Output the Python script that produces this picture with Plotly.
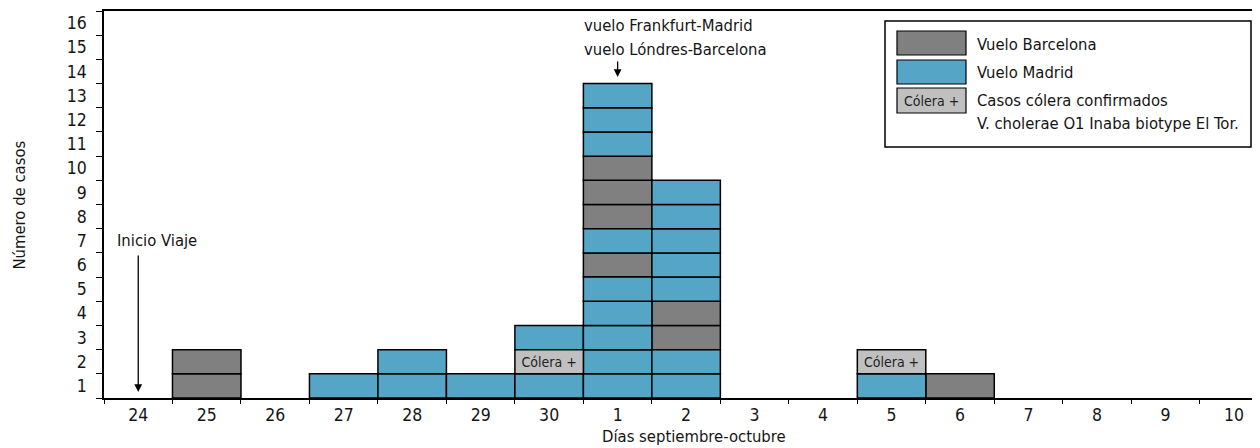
import plotly.graph_objects as go

# ---- data ----
days = ['24', '25', '26', '27', '28', '29', '30', '1', '2', '3', '4', '5', '6', '7', '8', '9', '10']
# cells per day, bottom-up: B = Vuelo Barcelona, M = Vuelo Madrid, C = Cólera + (confirmado)
stack_25 = ['B', 'B']
stack_27 = ['M']
stack_28 = ['M', 'M']
stack_29 = ['M']
stack_30 = ['M', 'C', 'M']
stack_1 = ['M', 'M', 'M', 'M', 'M', 'B', 'M', 'B', 'B', 'B', 'M', 'M', 'M']
stack_2 = ['M', 'M', 'B', 'B', 'M', 'M', 'M', 'M', 'M']
stack_5 = ['M', 'C']
stack_6 = ['B']
stacks = {'25': stack_25, '27': stack_27, '28': stack_28, '29': stack_29, '30': stack_30,
          '1': stack_1, '2': stack_2, '5': stack_5, '6': stack_6}
y_labels = [str(i) for i in range(1, 17)]

# ---- styles ----
FONT = "DejaVu Sans Condensed, Liberation Sans Narrow, Arial Narrow, sans-serif"
FS = 16.5
FT = 17.5
TXT = '#151515'
C_B = '#808080'
C_M = '#55a5c6'
C_C = '#c0c0c0'
names = {'B': 'Vuelo Barcelona', 'M': 'Vuelo Madrid', 'C': 'Casos cólera confirmados'}
colors = {'B': C_B, 'M': C_M, 'C': C_C}

fig = go.Figure()
for code in ['B', 'M', 'C']:
    xs, bases = [], []
    for d, cells in stacks.items():
        xi = days.index(d)
        for lvl, c in enumerate(cells):
            if c == code:
                xs.append(xi)
                bases.append(lvl)
    fig.add_trace(go.Bar(
        x=xs, y=[1] * len(xs), base=bases, width=1,
        name=names[code],
        marker=dict(color=colors[code], line=dict(color='black', width=1.5)),
        text=['Cólera +'] * len(xs) if code == 'C' else None,
        textposition='inside' if code == 'C' else 'none',
        insidetextanchor='middle',
        textfont=dict(family=FONT, size=14, color='#222222'),
        showlegend=False,
    ))

# page body has an 8px margin: figure is offset by OFF in the screenshot
OFF = 8
W, H = 1252, 440
L, R, T, B = 96, 0, 3, 50
pw, ph = W - L - R, H - T - B


def px(sx):
    return (sx - OFF - L) / pw


def py(sy):
    return (H - B - (sy - OFF)) / ph


shapes = []
annotations = []
# legend box
shapes.append(dict(type='rect', xref='paper', yref='paper', x0=px(885), x1=px(1251), y0=py(147), y1=py(21),
                   line=dict(color='black', width=1.5), fillcolor='white', layer='above'))
sw = [(C_B, 31, 55), (C_M, 60, 84), (C_C, 88, 113)]
for col, y0, y1 in sw:
    shapes.append(dict(type='rect', xref='paper', yref='paper', x0=px(897), x1=px(966), y0=py(y1), y1=py(y0),
                       line=dict(color='black', width=1.2), fillcolor=col, layer='above'))
annotations.append(dict(xref='paper', yref='paper', x=px(931.5), y=py(100.5), text='Cólera +', showarrow=False,
                        font=dict(family=FONT, size=14, color='#222222'), xanchor='center', yanchor='middle'))
leg_texts = [('Vuelo Barcelona', 44), ('Vuelo Madrid', 72.5), ('Casos cólera confirmados', 100.5),
             ('V. cholerae O1 Inaba biotype El Tor.', 123.5)]
for t, yy in leg_texts:
    annotations.append(dict(xref='paper', yref='paper', x=px(975), y=py(yy), text=t, showarrow=False,
                            font=dict(family=FONT, size=FS, color=TXT), xanchor='left', yanchor='middle'))

# Inicio Viaje
annotations.append(dict(x=0.27, y=6.5, xref='x', yref='y', text='Inicio Viaje', showarrow=False,
                        font=dict(family=FONT, size=FS, color=TXT), xanchor='center', yanchor='middle'))
annotations.append(dict(x=0, y=0.25, ax=0, ay=5.95, xref='x', yref='y', axref='x', ayref='y', text='',
                        showarrow=True, arrowhead=2, arrowsize=1.2, arrowwidth=1.3, arrowcolor='black'))
# flights
annotations.append(dict(x=6.485, y=15.4, xref='x', yref='y', text='vuelo Frankfurt-Madrid', showarrow=False,
                        font=dict(family=FONT, size=FS, color=TXT), xanchor='left', yanchor='middle'))
annotations.append(dict(x=6.485, y=14.4, xref='x', yref='y', text='vuelo Lóndres-Barcelona', showarrow=False,
                        font=dict(family=FONT, size=FS, color=TXT), xanchor='left', yanchor='middle'))
annotations.append(dict(x=7, y=13.27, ax=7, ay=13.97, xref='x', yref='y', axref='x', ayref='y', text='',
                        showarrow=True, arrowhead=2, arrowsize=1.2, arrowwidth=1.3, arrowcolor='black'))
# axis titles
annotations.append(dict(xref='paper', yref='paper', x=px(19.5), y=py(205), text='Número de casos', textangle=-90,
                        showarrow=False, font=dict(family=FONT, size=FS, color=TXT),
                        xanchor='center', yanchor='middle'))
annotations.append(dict(xref='paper', yref='paper', x=px(694), y=py(436), text='Días septiembre-octubre',
                        showarrow=False, font=dict(family=FONT, size=FS, color=TXT),
                        xanchor='center', yanchor='middle'))

fig.update_layout(
    width=W, height=H,
    margin=dict(l=L, r=R, t=T, b=B, pad=0),
    paper_bgcolor='white', plot_bgcolor='white',
    barmode='overlay',
    font=dict(family=FONT, size=FS, color=TXT),
    shapes=shapes, annotations=annotations,
    xaxis=dict(range=[-0.5, 16.38], tickmode='array', tickvals=list(range(len(days))), ticktext=days,
               ticks='', showline=True, linecolor='black', linewidth=1.5, mirror=True,
               showgrid=False, zeroline=False, fixedrange=True,
               tickfont=dict(family=FONT, size=FT, color=TXT),
               minor=dict(tickmode='array', tickvals=[i - 0.5 for i in range(len(days) + 1)],
                          ticks='outside', ticklen=4, tickwidth=1.2, tickcolor='black', showgrid=False)),
    yaxis=dict(range=[0, 16], tickmode='array', tickvals=[i + 0.5 for i in range(16)], ticktext=y_labels,
               ticks='', showline=True, linecolor='black', linewidth=1.5, mirror=False,
               showgrid=False, zeroline=False, fixedrange=True, ticklabelstandoff=12,
               tickfont=dict(family=FONT, size=FT, color=TXT),
               minor=dict(tickmode='array', tickvals=list(range(17)),
                          ticks='outside', ticklen=6, tickwidth=1.2, tickcolor='black', showgrid=False)),
)

fig.write_html("out.html")
